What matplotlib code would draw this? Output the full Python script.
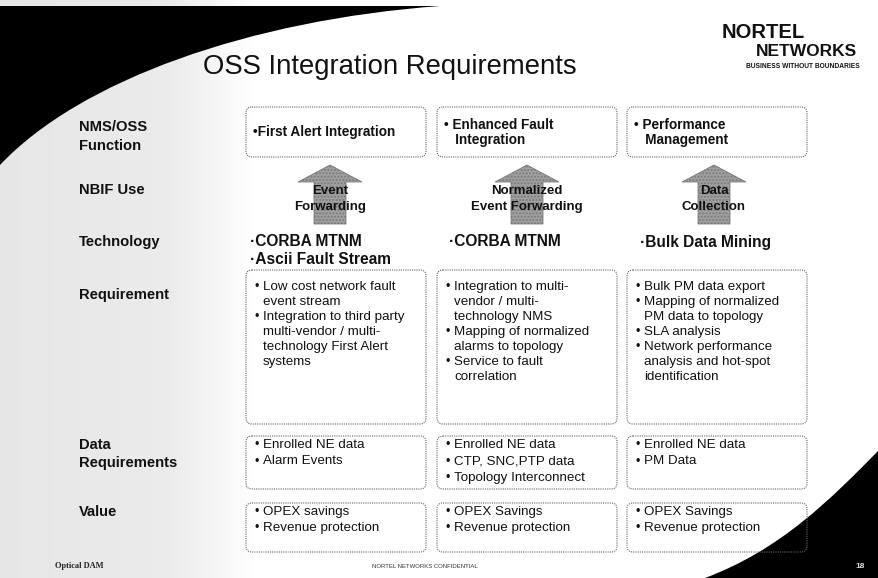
import matplotlib
matplotlib.use("Agg")
import matplotlib.pyplot as plt
import numpy as np
from matplotlib.patches import FancyBboxPatch, Polygon, PathPatch
from matplotlib.path import Path

plt.rcParams['font.family'] = ['Liberation Sans', 'DejaVu Sans']

# ---------------- content ----------------
title = "OSS Integration Requirements"
row_labels = [["NMS/OSS", "Function"], ["NBIF Use"], ["Technology"], ["Requirement"],
              ["Data", "Requirements"], ["Value"]]
function_text = [["\u2022First Alert Integration"],
                 ["\u2022 Enhanced Fault", "   Integration"],
                 ["\u2022 Performance", "   Management"]]
nbif_text = [["Event", "Forwarding"], ["Normalized", "Event Forwarding"], ["Data", "Collection"]]
tech_text = [["\u00b7CORBA MTNM", "\u00b7Ascii Fault Stream"], ["\u00b7CORBA MTNM"], ["\u00b7Bulk Data Mining"]]
requirement = [
    [["Low cost network fault", "event stream"],
     ["Integration to third party", "multi-vendor / multi-", "technology First Alert", "systems"]],
    [["Integration to multi-", "vendor / multi-", "technology NMS"],
     ["Mapping of normalized", "alarms to topology"],
     ["Service to fault", "correlation"]],
    [["Bulk PM data export"],
     ["Mapping of normalized", "PM data to topology"],
     ["SLA analysis"],
     ["Network performance", "analysis and hot-spot", "identification"]],
]
data_req = [
    [["Enrolled NE data"], ["Alarm Events"]],
    [["Enrolled NE data"], ["CTP, SNC,PTP data"], ["Topology Interconnect"]],
    [["Enrolled NE data"], ["PM Data"]],
]
value = [
    [["OPEX savings"], ["Revenue protection"]],
    [["OPEX Savings"], ["Revenue protection"]],
    [["OPEX Savings"], ["Revenue protection"]],
]
footer_left = "Optical DAM"
footer_mid = "NORTEL NETWORKS CONFIDENTIAL"
page_no = "18"

# ---------------- layout (pixels) ----------------
W, H = 879, 578
fig = plt.figure(figsize=(W / 100, H / 100), dpi=100)
ax = fig.add_axes([0, 0, 1, 1])
ax.set_xlim(0, W)
ax.set_ylim(H, 0)
ax.axis('off')

# background: light gray band on the left fading to white
xs = np.linspace(0, 260, 260)
shade = np.where(xs < 170, 0.90 + xs / 170 * 0.02, 0.92 + (xs - 170) / 90 * 0.08)
ax.imshow(np.repeat(shade[None, :], 2, axis=0), cmap='gray', vmin=0, vmax=1,
          extent=[0, 260, H, 0], aspect='auto', zorder=0)
ax.add_patch(plt.Rectangle((260, 0), W - 260, H, color='white', zorder=0))

# black curved wedges
tl = Path([(0, 6), (440, 6), (250, 20), (80, 80), (0, 165), (0, 6)],
          [Path.MOVETO, Path.LINETO, Path.CURVE4, Path.CURVE4, Path.CURVE4, Path.CLOSEPOLY])
ax.add_patch(PathPatch(tl, facecolor='black', edgecolor='none', zorder=1))
br = Path([(879, 450), (830, 500), (780, 550), (705, 578), (879, 578), (879, 450)],
          [Path.MOVETO, Path.CURVE4, Path.CURVE4, Path.CURVE4, Path.LINETO, Path.CLOSEPOLY])
ax.add_patch(PathPatch(br, facecolor='black', edgecolor='none', zorder=1))

# title + logo
ax.text(203, 67, title, fontsize=19.8, ha='left', va='center', color='#111111')
ax.text(722, 32, "NORTEL", fontsize=14.5, fontweight='bold', ha='left', va='center', color='#111')
ax.text(857, 51, "NETWORKS", fontsize=12.5, fontweight='bold', ha='right', va='center', color='#111')
ax.text(860, 67, "BUSINESS WITHOUT BOUNDARIES", fontsize=4.8, fontweight='bold',
        ha='right', va='center', color='#111')

# row labels
label_x = 79
label_y = [[127, 146], [190], [242], [295], [445, 463], [512]]
for lines, ys in zip(row_labels, label_y):
    for t, y in zip(lines, ys):
        ax.text(label_x, y, t, fontsize=10.6, fontweight='bold', ha='left', va='center', color='#111')

col_left = [246, 437, 627]
col_right = [426, 617, 807]
col_center = [330, 527, 714]


def box(x0, x1, y0, y1):
    ax.add_patch(FancyBboxPatch((x0, y0), x1 - x0, y1 - y0,
                                boxstyle="round,pad=0,rounding_size=6",
                                facecolor='none', edgecolor='#666666', lw=0.8,
                                linestyle=(0, (1, 1)), zorder=3))


# function row
fy = [[132], [125, 140], [125, 140]]
for i in range(3):
    box(col_left[i], col_right[i], 107, 157)
    for t, y in zip(function_text[i], fy[i]):
        ax.text(col_left[i] + 7, y, t, fontsize=9.8, fontweight='bold', ha='left', va='center', color='#111')

# arrows
for i in range(3):
    cx = col_center[i]
    pts = [(cx - 16, 224), (cx - 16, 182), (cx - 32, 182), (cx, 165), (cx + 32, 182),
           (cx + 16, 182), (cx + 16, 224)]
    ax.add_patch(Polygon(pts, closed=True, facecolor='#a0a0a0', edgecolor='#7a7a7a',
                         lw=0.6, hatch='.....', zorder=2))
    for t, y in zip(nbif_text[i], [191, 207]):
        ax.text(cx, y, t, fontsize=9.5, fontweight='bold', ha='center', va='center', color='#111', zorder=4)

# technology
tx = [250, 449, 640]
for i in range(3):
    for t, y in zip(tech_text[i], [242, 260]):
        ax.text(tx[i], y, t, fontsize=11.2, fontweight='bold', ha='left', va='center', color='#111')


def bullets(i, items, y0, dy, y_top, y_bot):
    box(col_left[i], col_right[i], y_top, y_bot)
    y = y0
    for item in items:
        ax.text(col_left[i] + 9, y, "\u2022", fontsize=9, ha='left', va='center', color='#111')
        for line in item:
            ax.text(col_left[i] + 17, y, line, fontsize=9.6, ha='left', va='center', color='#111')
            y += dy


for i in range(3):
    bullets(i, requirement[i], 287, 15, 270, 424)
    bullets(i, data_req[i], 445, 16.5, 436, 489)
    bullets(i, value[i], 512, 15.5, 503, 552)

# footer
ax.text(55, 566, footer_left, fontsize=6, fontweight='bold', family='Liberation Serif',
        ha='left', va='center', color='#222')
ax.text(425, 567, footer_mid, fontsize=4.3, ha='center', va='center', color='#333')
ax.text(860, 566, page_no, fontsize=6, fontweight='bold', ha='center', va='center', color='#dddddd', zorder=5)

fig.savefig("out.png", dpi=100)
